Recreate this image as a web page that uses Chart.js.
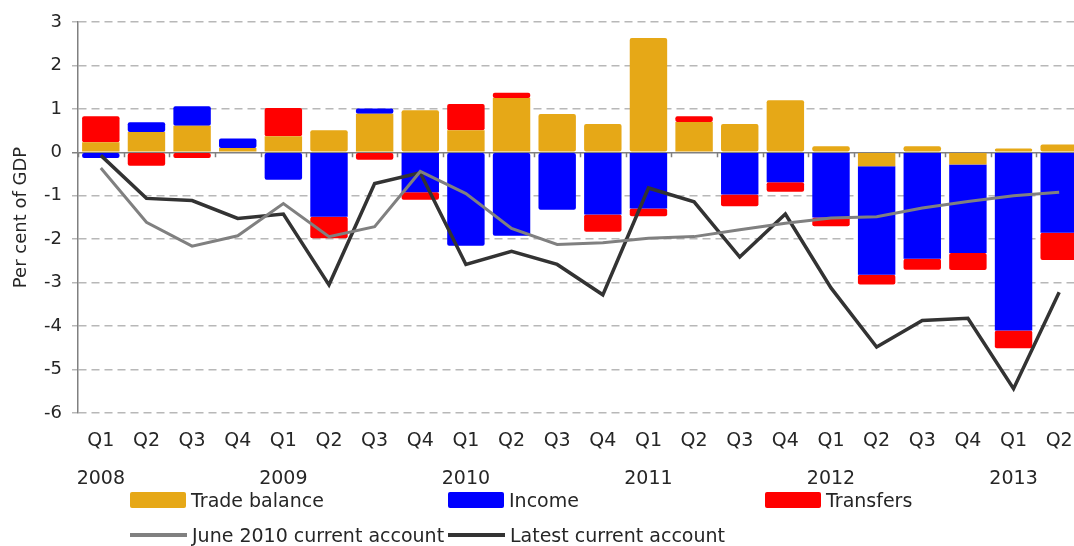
<!DOCTYPE html>
<html>
<head>
<meta charset="utf-8">
<script src="https://cdn.jsdelivr.net/npm/chart.js@4"></script>
<style>
  html, body { margin: 0; padding: 0; background: #fff; overflow: hidden; }
  #wrap { position: relative; width: 1074px; height: 546px; overflow: hidden; }
  #grafico { position: absolute; left: 0; top: 0; }
  .ley { position: absolute; display: flex; align-items: center; font-family: "DejaVu Sans", sans-serif; font-size: 19px; color: #262626; white-space: nowrap; }
  .caja { width: 56px; height: 16px; margin-right: 5px; border-radius: 2px; }
  .raya { width: 57px; height: 4px; margin-right: 5px; }
</style>
</head>
<body>
<div id="wrap">
  <canvas id="grafico" width="1082" height="546"></canvas>
</div>
<script>
const trimestres = ["Q1", "Q2", "Q3", "Q4", "Q1", "Q2", "Q3", "Q4", "Q1", "Q2", "Q3", "Q4",
  "Q1", "Q2", "Q3", "Q4", "Q1", "Q2", "Q3", "Q4", "Q1", "Q2"];
const anios = ["2008", "", "", "", "2009", "", "", "", "2010", "", "", "",
  "2011", "", "", "", "2012", "", "", "", "2013", ""];

const balanzaComercial = [0.23, 0.47, 0.61, 0.1, 0.37, 0.51, 0.89, 0.97, 0.51, 1.25, 0.88, 0.65,
  2.63, 0.7, 0.65, 1.2, 0.14, -0.32, 0.14, -0.28, 0.09, 0.18];
const ingresos = [-0.13, 0.22, 0.45, 0.22, -0.63, -1.48, 0.12, -0.92, -2.15, -1.92, -1.32, -1.43,
  -1.29, 0, -0.97, -0.69, -1.5, -2.5, -2.45, -2.04, -4.1, -1.85];
const transferencias = [0.6, -0.31, -0.13, 0, 0.65, -0.5, -0.17, -0.17, 0.6, 0.12, 0, -0.4,
  -0.18, 0.13, -0.27, -0.22, -0.2, -0.22, -0.25, -0.39, -0.41, -0.63];
const cuentaJunio2010 = [-0.36, -1.61, -2.16, -1.92, -1.18, -1.94, -1.71, -0.44, -0.95, -1.75, -2.12, -2.08,
  -1.98, -1.94, -1.78, -1.63, -1.51, -1.48, -1.28, -1.13, -1.0, -0.92];
const cuentaUltima = [-0.07, -1.06, -1.11, -1.52, -1.42, -3.05, -0.72, -0.47, -2.58, -2.28, -2.58, -3.28,
  -0.82, -1.14, -2.41, -1.42, -3.12, -4.48, -3.87, -3.82, -5.44, -3.22];
const ticksY = [3, 2, 1, 0, -1, -2, -3, -4, -5, -6];

const colores = {
  comercial: "#E6A817",
  ingresos: "#0000FF",
  transferencias: "#FF0000",
  junio: "#808080",
  ultima: "#333333",
};
const fuente = "'DejaVu Sans', sans-serif";

const etiquetas = trimestres.map((q, i) => [q, anios[i]]);

function barra(label, data, color) {
  return {
    type: "bar",
    label,
    data,
    backgroundColor: color,
    stack: "cab",
    order: 1,
    barPercentage: 0.82,
    categoryPercentage: 1,
    borderRadius: 2,
    borderSkipped: false,
  };
}

function linea(label, data, color, ancho, pila) {
  return {
    type: "line",
    label,
    data,
    borderColor: color,
    backgroundColor: color,
    borderWidth: ancho,
    pointRadius: 0,
    tension: 0,
    fill: false,
    stack: pila,
    order: 0,
    borderJoinStyle: "miter",
  };
}

// marquitas de categoria sobre la linea del cero
const marcasCero = {
  id: "marcasCero",
  beforeDatasetsDraw(chart) {
    const { ctx, scales: { x, y } } = chart;
    const y0 = y.getPixelForValue(0);
    const medio = (x.getPixelForValue(1) - x.getPixelForValue(0)) / 2;
    ctx.save();
    ctx.strokeStyle = "#808080";
    ctx.lineWidth = 1.5;
    ctx.beginPath();
    for (let i = 0; i <= trimestres.length; i++) {
      const px = Math.round(x.getPixelForValue(i) - medio) + 0.5;
      ctx.moveTo(px, y0);
      ctx.lineTo(px, y0 + 5);
    }
    ctx.stroke();
    ctx.restore();
  },
};

const grafico = new Chart(document.getElementById("grafico"), {
  data: {
    labels: etiquetas,
    datasets: [
      linea("June 2010 current account", cuentaJunio2010, colores.junio, 3, "junio"),
      linea("Latest current account", cuentaUltima, colores.ultima, 3.5, "ultima"),
      barra("Trade balance", balanzaComercial, colores.comercial),
      barra("Income", ingresos, colores.ingresos),
      barra("Transfers", transferencias, colores.transferencias),
    ],
  },
  options: {
    responsive: false,
    animation: false,
    layout: { padding: { top: 22, bottom: 39, left: 0, right: 0 } },
    scales: {
      x: {
        stacked: true,
        grid: { display: false, drawTicks: false },
        border: { display: false },
        ticks: {
          color: "#262626",
          padding: 9,
          maxRotation: 0,
          autoSkip: false,
          font: { family: fuente, size: 19, lineHeight: 2 },
        },
      },
      y: {
        stacked: true,
        min: -6,
        max: 3,
        afterFit: (escala) => { escala.width = 78; },
        afterBuildTicks: (escala) => { escala.ticks = ticksY.map((v) => ({ value: v })); },
        grid: {
          color: (c) => (c.tick && c.tick.value === 0 ? "#808080" : "#b8b8b8"),
          lineWidth: 1.5,
          tickLength: 6,
        },
        border: {
          display: true,
          color: "#808080",
          width: 1.5,
          dash: (c) => (c.tick && c.tick.value === 0 ? [] : [8, 5]),
        },
        ticks: {
          color: "#262626",
          padding: 10,
          font: { family: fuente, size: 18 },
        },
        title: {
          display: true,
          text: "Per cent of GDP",
          color: "#262626",
          padding: { top: 11, bottom: 0 },
          font: { family: fuente, size: 18 },
        },
      },
    },
    plugins: {
      legend: { display: false },
      tooltip: { enabled: false },
    },
  },
  plugins: [marcasCero],
});

// leyenda armada a partir de los datasets
const $wrap = document.getElementById("wrap");
const posiciones = {
  "Trade balance": [130, 500],
  "Income": [448, 500],
  "Transfers": [765, 500],
  "June 2010 current account": [130, 535],
  "Latest current account": [448, 535],
};
grafico.data.datasets.forEach((ds) => {
  const [x, y] = posiciones[ds.label];
  const item = document.createElement("div");
  item.className = "ley";
  item.style.left = x + "px";
  item.style.top = (y - 12) + "px";
  item.style.height = "24px";
  const muestra = document.createElement("span");
  muestra.className = ds.type === "bar" ? "caja" : "raya";
  muestra.style.background = ds.backgroundColor;
  const texto = document.createElement("span");
  texto.textContent = ds.label;
  item.appendChild(muestra);
  item.appendChild(texto);
  $wrap.appendChild(item);
});
</script>
</body>
</html>
